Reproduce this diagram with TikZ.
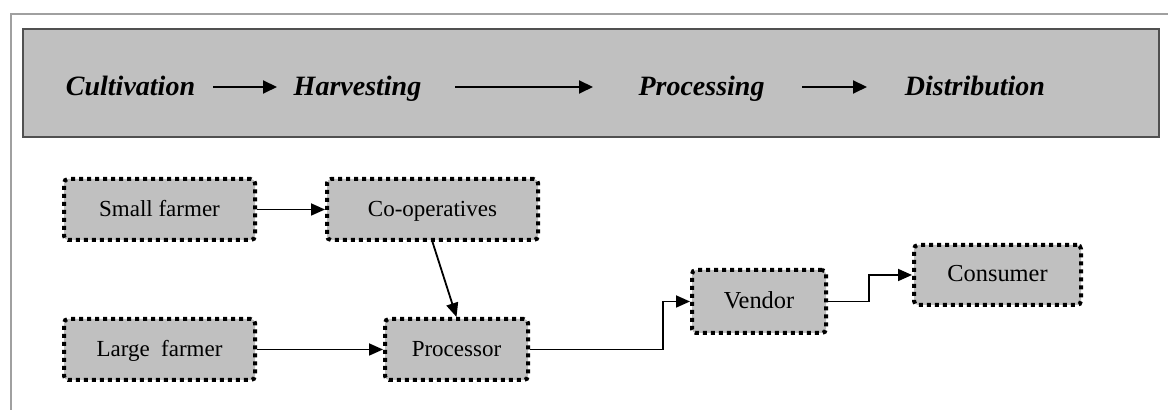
\documentclass[tikz,border=0pt]{standalone}
\usepackage{fontspec}
\setmainfont{Liberation Serif}
\usetikzlibrary{arrows.meta}
\definecolor{boxgray}{RGB}{192,192,192}
\definecolor{framegray}{RGB}{160,160,160}
\definecolor{banddraw}{RGB}{80,80,80}
\tikzset{
  stage/.style={inner sep=0pt, anchor=base, font=\fontsize{14}{16}\selectfont\bfseries\itshape},
  stagearrow/.style={line width=1pt, -{Triangle[length=7pt,width=6.5pt]}},
  actor/.style={draw=black, fill=boxgray, line width=2pt,
    dash pattern=on 2pt off 2pt, rounded corners=2pt, inner sep=0pt,
    minimum height=30.5pt, text height=0.66em, text depth=0pt,
    font=\fontsize{11.5}{13}\selectfont},
  bigtext/.style={font=\fontsize{12.2}{14}\selectfont},
  flow/.style={line width=0.9pt, solid, -{Triangle[length=7pt,width=6pt]}}
}
\begin{document}
\begin{tikzpicture}[x=0.5pt, y=-0.5pt]
  \useasboundingbox (0,0) rectangle (1168,410);
  % outer frame
  \draw[framegray, line width=1pt] (11,410) -- (11,14) -- (1168,14);
  % stage band
  \draw[banddraw, fill=boxgray, line width=1pt] (23,29) rectangle (1159,137);
  \node[stage] (cult) at (130.5,96) {Cultivation};
  \node[stage] (harv) at (357.5,96) {Harvesting};
  \node[stage] (proc) at (701.5,96) {Processing};
  \node[stage] (dist) at (975,96) {Distribution};
  \coordinate (a1s) at (213,87);  \coordinate (a1e) at (277,87);
  \coordinate (a2s) at (455,87);  \coordinate (a2e) at (593,87);
  \coordinate (a3s) at (802,87);  \coordinate (a3e) at (867,87);
  \draw[stagearrow] (a1s) -- (a1e);
  \draw[stagearrow] (a2s) -- (a2e);
  \draw[stagearrow] (a3s) -- (a3e);
  % supply chain actors
  \node[actor, minimum width=95.5pt] (small) at (159.5,209.5) {Small farmer};
  \node[actor, minimum width=105.5pt] (coop) at (432.5,209.5) {Co-operatives};
  \node[actor, minimum width=95.5pt] (large) at (159.5,349.5) {Large\ \ farmer};
  \node[actor, minimum width=71.5pt] (processor) at (456.5,349.5) {Processor};
  \node[actor, bigtext, minimum width=67pt, minimum height=31.5pt] (vendor) at (759,301.5) {Vendor};
  \node[actor, bigtext, minimum width=83.5pt, minimum height=30pt] (consumer) at (997.5,275) {Consumer};
  % flows
  \draw[flow] (small.east) -- (coop.west);
  \draw[flow] (coop.south) -- (processor.north);
  \draw[flow] (large.east) -- (processor.west);
  \draw[flow] (processor.east) -- ([xshift=66.5pt]processor.east) |- (vendor.west);
  \draw[flow] (vendor.east) -- ([xshift=20.5pt]vendor.east) |- (consumer.west);
\end{tikzpicture}
\end{document}
